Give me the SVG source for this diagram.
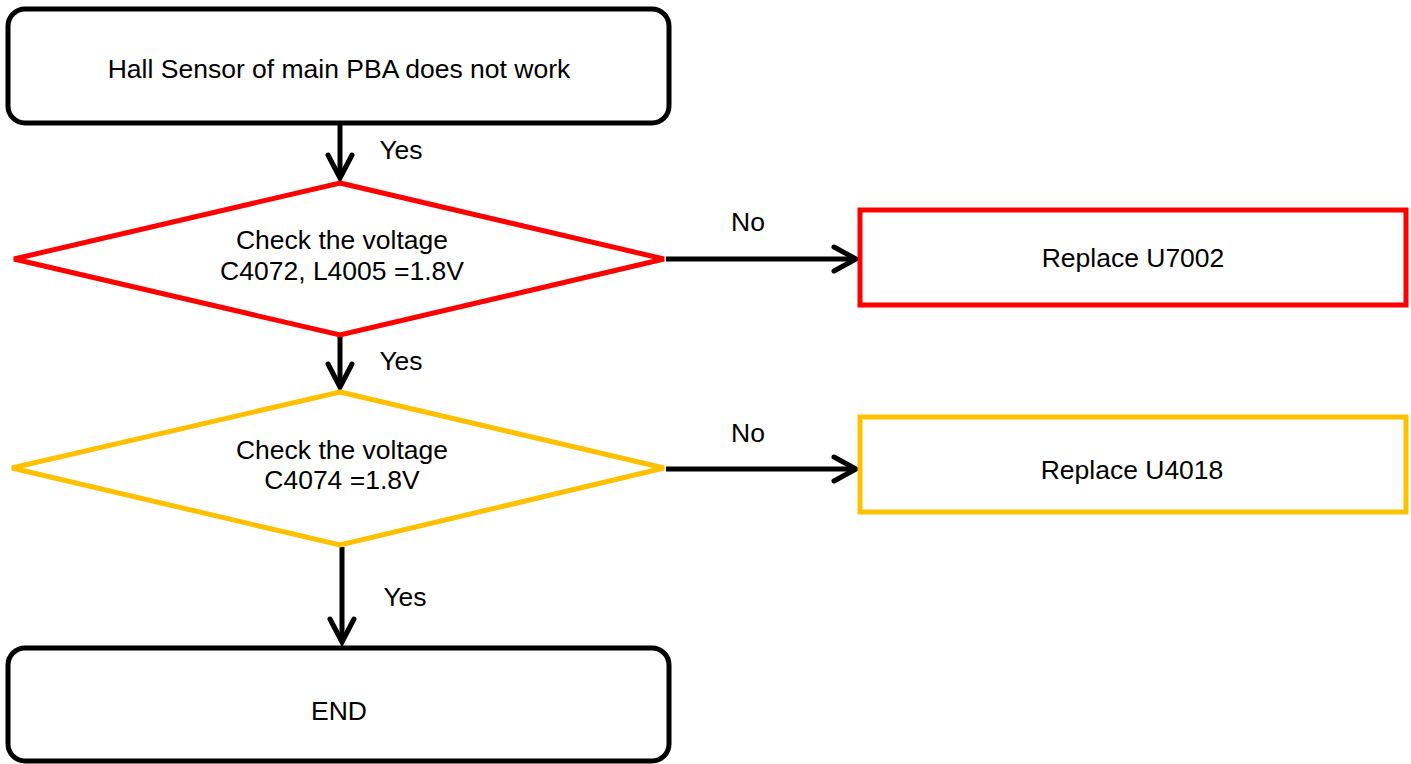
<svg xmlns="http://www.w3.org/2000/svg" width="1411" height="764" viewBox="0 0 1411 764">
<style>
text{font-family:"Liberation Sans",Arial,sans-serif;font-size:26.5px;fill:#000;text-anchor:middle}
.term{fill:#fff;stroke:#000;stroke-width:5}
.red{fill:#fff;stroke:#FF0000;stroke-width:5}
.yel{fill:#fff;stroke:#FFC000;stroke-width:5}
.conn{fill:none;stroke:#000;stroke-width:5}
.head{fill:none;stroke:#000;stroke-width:5;stroke-linecap:round;stroke-linejoin:miter}
</style>
<rect width="1411" height="764" fill="#fff"/>
<g id="connectors">
<line class="conn" x1="340" y1="123" x2="340" y2="178"/>
<path class="head" d="M328,155 L340,178 L352,155"/>
<text x="401" y="159">Yes</text>
<line class="conn" x1="340" y1="336" x2="340" y2="387"/>
<path class="head" d="M328,364 L340,387 L352,364"/>
<text x="401" y="370">Yes</text>
<line class="conn" x1="342" y1="547" x2="342" y2="642"/>
<path class="head" d="M330,619 L342,642 L354,619"/>
<text x="405" y="606">Yes</text>
<line class="conn" x1="666" y1="259" x2="855" y2="259"/>
<path class="head" d="M834,247 L856,259 L834,271"/>
<text x="748" y="231">No</text>
<line class="conn" x1="666" y1="469" x2="855" y2="469"/>
<path class="head" d="M834,457 L856,469 L834,481"/>
<text x="748" y="442">No</text>
</g>
<g id="start">
<rect class="term" x="8" y="9" width="661" height="114" rx="17"/>
<text x="339" y="78">Hall Sensor of main PBA does not work</text>
</g>
<g id="check1">
<polygon class="red" points="340,183 664,259 340,335 14,259"/>
<text x="342" y="249">Check the voltage</text>
<text x="342" y="280">C4072, L4005 =1.8V</text>
</g>
<g id="u7002">
<rect class="red" x="860" y="210" width="546" height="95"/>
<text x="1133" y="267">Replace U7002</text>
</g>
<g id="check2">
<polygon class="yel" points="340,392 664,468 340,545 12,468"/>
<text x="342" y="459">Check the voltage</text>
<text x="342" y="489">C4074 =1.8V</text>
</g>
<g id="u4018">
<rect class="yel" x="860" y="417" width="546" height="95"/>
<text x="1132" y="479">Replace U4018</text>
</g>
<g id="end">
<rect class="term" x="8" y="648" width="661" height="113" rx="17"/>
<text x="339" y="720">END</text>
</g>
</svg>
